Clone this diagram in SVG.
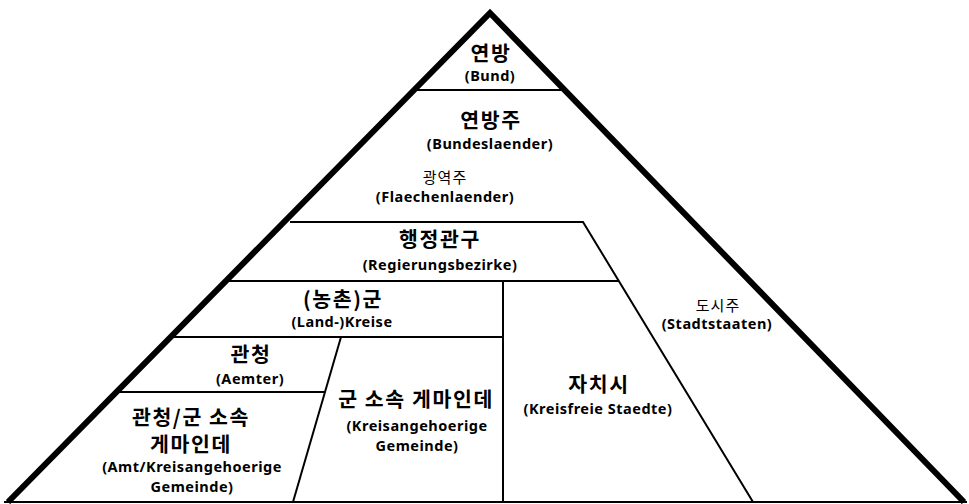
<svg xmlns="http://www.w3.org/2000/svg" width="969" height="504" viewBox="0 0 969 504">
<style>
.bg{fill:#fff}
.thick{fill:none;stroke:#000;stroke-width:6;stroke-linejoin:miter;stroke-linecap:butt}
.thin{fill:none;stroke:#000;stroke-width:2}
text{text-anchor:middle;fill:#000;font-family:"Noto Sans","Noto Sans CJK KR",sans-serif}
.ko{font-family:"Noto Sans CJK KR",sans-serif;font-size:20.5px;font-weight:700;letter-spacing:1.6px}
.ko-s{font-family:"Noto Sans CJK KR",sans-serif;font-size:15px;font-weight:400;letter-spacing:1px}
.la{font-size:14.5px;font-weight:700;letter-spacing:0.5px}
</style>
<rect class="bg" x="0" y="0" width="969" height="504"/>
<g id="lines">
<line class="thin" x1="4" y1="502" x2="967" y2="502"/>
<line class="thin" x1="413" y1="90" x2="566" y2="90"/>
<polyline class="thin" points="290,222 583,222 753,502"/>
<line class="thin" x1="225" y1="281" x2="619" y2="281"/>
<line class="thin" x1="503" y1="281" x2="503" y2="502"/>
<line class="thin" x1="170" y1="337" x2="503" y2="337"/>
<line class="thin" x1="341" y1="337" x2="293" y2="502"/>
<line class="thin" x1="116" y1="392" x2="325" y2="392"/>
<polyline class="thick" points="8,502 490,13 964,502"/>
</g>
<g id="bund">
<text class="ko" x="491" y="61">연방</text>
<text class="la" x="490" y="81">(Bund)</text>
</g>
<g id="bundeslaender">
<text class="ko" x="491" y="128">연방주</text>
<text class="la" x="490" y="149">(Bundeslaender)</text>
</g>
<g id="flaechenlaender">
<text class="ko-s" x="445" y="183">광역주</text>
<text class="la" x="445" y="202">(Flaechenlaender)</text>
</g>
<g id="regierungsbezirke">
<text class="ko" x="440" y="247">행정관구</text>
<text class="la" x="440" y="270">(Regierungsbezirke)</text>
</g>
<g id="landkreise">
<text class="ko" x="343" y="307">(농촌)군</text>
<text class="la" x="342" y="327">(Land-)Kreise</text>
</g>
<g id="aemter">
<text class="ko" x="251" y="362">관청</text>
<text class="la" x="250" y="384">(Aemter)</text>
</g>
<g id="amt-gemeinde">
<text class="ko" x="191" y="425">관청/군 소속</text>
<text class="ko" x="191" y="452">게마인데</text>
<text class="la" x="192" y="472">(Amt/Kreisangehoerige</text>
<text class="la" x="192" y="492">Gemeinde)</text>
</g>
<g id="kreis-gemeinde">
<text class="ko" x="416" y="407">군 소속 게마인데</text>
<text class="la" x="417" y="431">(Kreisangehoerige</text>
<text class="la" x="417" y="451">Gemeinde)</text>
</g>
<g id="kreisfreie">
<text class="ko" x="599" y="392">자치시</text>
<text class="la" x="598" y="414">(Kreisfreie Staedte)</text>
</g>
<g id="stadtstaaten">
<text class="ko-s" x="718" y="311">도시주</text>
<text class="la" x="717" y="329">(Stadtstaaten)</text>
</g>
</svg>
